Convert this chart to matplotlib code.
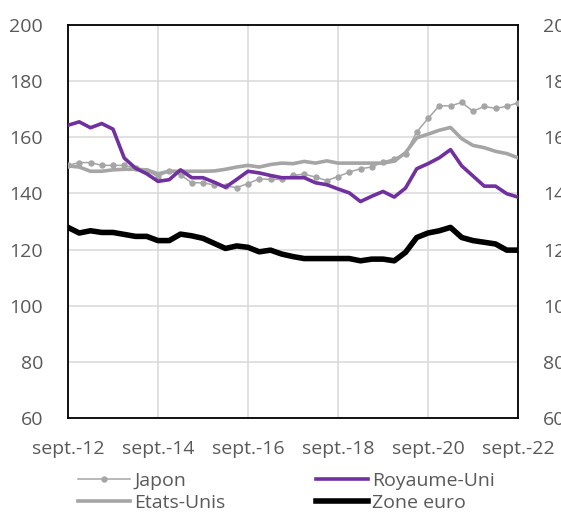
import matplotlib
matplotlib.use("Agg")
import matplotlib.pyplot as plt

# trimestres de sept.-12 a sept.-22
dates = ["sept.-12", "sept.-14", "sept.-16", "sept.-18", "sept.-20", "sept.-22"]

japon = [150, 151, 151, 150, 150, 150, 149, 148, 146, 148,
         146.6, 143.8, 143.8, 143, 142.6, 142.1, 143.5, 145.2, 145, 145,
         146.4, 146.9, 145.8, 144.6, 146, 147.6, 148.8, 149.4, 151.2, 152.4,
         154.2, 161.9, 166.7, 171.2, 171.2, 172.4, 169.3, 171, 170.3, 171, 172.3]

etats_unis = [149.8, 149.4, 147.9, 147.9, 148.4, 148.6, 148.6, 148.4, 147, 147.9,
              147.9, 147.9, 147.9, 148, 148.6, 149.4, 150, 149.4, 150.3, 150.8,
              150.6, 151.4, 150.8, 151.6, 150.8, 150.8, 150.8, 150.8, 150.8, 151.5,
              154.5, 159.8, 161.1, 162.5, 163.5, 159.5, 157.1, 156.3, 155, 154.2, 152.7]

royaume_uni = [164.3, 165.5, 163.4, 164.9, 162.9, 152.6, 149, 147, 144.3, 144.9,
               148.4, 145.6, 145.6, 144, 142.2, 145, 147.9, 147.3, 146.4, 145.6,
               145.6, 145.6, 143.8, 143.1, 141.6, 140.2, 137.1, 139, 140.7, 138.7,
               141.9, 148.8, 150.6, 152.7, 155.6, 149.8, 146.2, 142.6, 142.6, 139.9, 138.7]

zone_euro = [127.9, 125.9, 126.7, 126.1, 126.1, 125.4, 124.7, 124.7, 123.2, 123.2,
             125.5, 124.9, 124, 122.2, 120.4, 121.3, 120.8, 119.2, 119.8, 118.4,
             117.5, 116.8, 116.8, 116.8, 116.8, 116.8, 116, 116.6, 116.6, 116,
             119, 124.3, 125.9, 126.7, 127.9, 124.3, 123.2, 122.6, 122, 119.8, 119.8]

plt.rcParams['font.family'] = ['Open Sans', 'DejaVu Sans']
txt = '#595959'

fig = plt.figure(figsize=(5.61, 5.14), dpi=100)
ax = fig.add_axes([68/561, 1 - 418/514, (518 - 68)/561, (418 - 25)/514])

x = list(range(len(japon)))
ax.plot(x, etats_unis, color='#A5A5A5', lw=2.6, label='Etats-Unis', zorder=3)
ax.plot(x, japon, color='#A5A5A5', lw=1.1, marker='o', ms=3.6, label='Japon', zorder=4)
ax.plot(x, royaume_uni, color='#7030A0', lw=2.6, label='Royaume-Uni', zorder=5)
ax.plot(x, zone_euro, color='black', lw=4, label='Zone euro', zorder=6)

ax.set_xlim(0, 40)
ax.set_ylim(60, 200)
ax.set_xticks(range(0, 41, 8))
ax.set_xticklabels(dates)
ax.set_yticks(range(60, 201, 20))
ax.grid(True, color='#D9D9D9', lw=1.1, zorder=0)
ax.set_axisbelow(True)
for s in ax.spines.values():
    s.set_color('black')
    s.set_linewidth(1.3)
ax.tick_params(length=0, labelsize=14, labelcolor=txt)
ax.tick_params(axis='y', pad=18)
ax.tick_params(axis='x', pad=15.5)

# axe secondaire (coupe au bord droit comme l'original)
ax2 = ax.twinx()
ax2.set_ylim(60, 200)
ax2.set_yticks(range(60, 201, 20))
ax2.tick_params(length=0, labelsize=14, labelcolor=txt, pad=18)
for s in ax2.spines.values():
    s.set_visible(False)

h, l = ax.get_legend_handles_labels()
order = [1, 0, 2, 3]
fig.legend([h[i] for i in order], [l[i] for i in order], ncol=2,
           loc='upper left', bbox_to_anchor=(78/561, 1 - 472/514),
           frameon=False, fontsize=14, labelcolor=txt,
           handlelength=2.65, handletextpad=0.25, columnspacing=4.65,
           labelspacing=0.22, borderpad=0, borderaxespad=0)

fig.savefig('out.png', dpi=100)
